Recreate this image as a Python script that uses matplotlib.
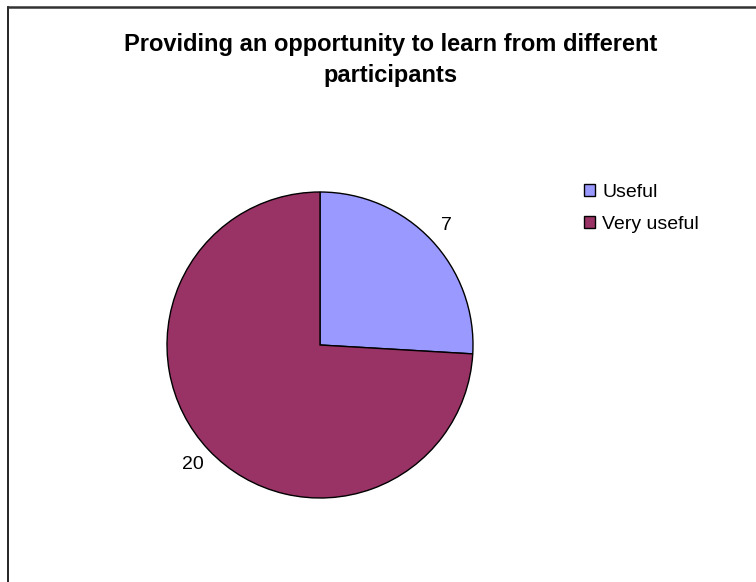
import matplotlib
import matplotlib.pyplot as plt
from matplotlib.lines import Line2D

matplotlib.use("Agg")

# data
categories = ["Useful", "Very useful"]
counts = [7, 20]
colors = ["#9999FF", "#993366"]
title = "Providing an opportunity to learn from different\nparticipants"

W, H = 756, 582
plt.rcParams["font.family"] = ["Liberation Sans", "DejaVu Sans"]

fig = plt.figure(figsize=(W / 100, H / 100), dpi=100)

# pie area: centre (320, 345), radius 153 px
cx, cy, r = 320, 345, 153
ax = fig.add_axes([(cx - r) / W, (H - cy - r) / H, 2 * r / W, 2 * r / H])
wedges, texts = ax.pie(
    counts,
    labels=[str(c) for c in counts],
    colors=colors,
    startangle=90,
    counterclock=False,
    labeldistance=1.14,
    wedgeprops={"edgecolor": "black", "linewidth": 1.0},
    textprops={"fontsize": 14, "color": "black"},
)
for t in texts:
    t.set_ha("center")   # Excel centres data labels on their anchor
ax.set_xlim(-1, 1)
ax.set_ylim(-1, 1)
ax.set_aspect("equal")

fig.text(391 / W, 1 - 60 / H, title, ha="center", va="center",
         fontsize=17, fontweight="bold", linespacing=1.4)

leg = fig.legend(wedges, categories, loc="upper left",
                 bbox_to_anchor=(584 / W, 1 - 184 / H), frameon=False,
                 fontsize=14, handlelength=0.55, handleheight=0.55,
                 handletextpad=0.4, labelspacing=0.75, borderpad=0,
                 borderaxespad=0)

# chart-area border (only top and left edges are visible)
fig.add_artist(Line2D([8 / W, 8 / W], [0, 1 - 7 / H], color="black", lw=1.2,
                      transform=fig.transFigure))
fig.add_artist(Line2D([8 / W, 1], [1 - 7 / H, 1 - 7 / H], color="#333333",
                      lw=1.8, transform=fig.transFigure))

fig.savefig("out.png", dpi=100)
plt.close(fig)
